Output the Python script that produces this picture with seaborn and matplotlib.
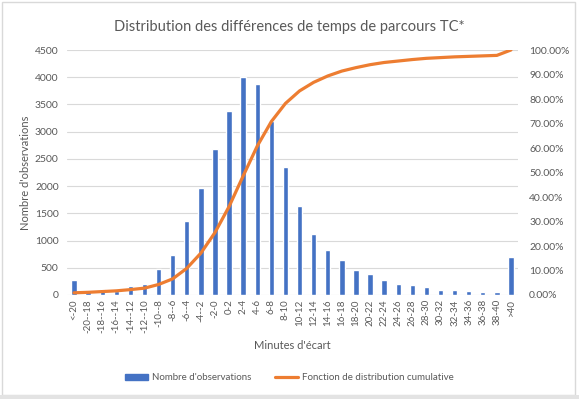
import numpy as np
import pandas as pd
import matplotlib
matplotlib.use("Agg")
import matplotlib.pyplot as plt
import matplotlib.patches as mpatches
import matplotlib.lines as mlines
import seaborn as sns

# bins (minutes of difference)
categories = ["<-20", "-20--18", "-18--16", "-16--14", "-14--12", "-12--10", "-10--8",
              "-8--6", "-6--4", "-4--2", "-2-0", "0-2", "2-4", "4-6", "6-8", "8-10",
              "10-12", "12-14", "14-16", "16-18", "18-20", "20-22", "22-24", "24-26",
              "26-28", "28-30", "30-32", "32-34", "34-36", "36-38", "38-40", ">40"]

# number of observations
counts = [280, 70, 110, 80, 160, 200, 480, 740, 1360, 1960, 2680, 3380, 4000, 3880,
          3200, 2350, 1630, 1120, 830, 640, 460, 390, 270, 210, 190, 150, 100, 90,
          70, 60, 60, 700]

# cumulative distribution (%)
cumul = [0.9, 1.1, 1.4, 1.7, 2.2, 2.8, 4.3, 6.6, 10.9, 17.1, 25.5, 36.1, 48.6, 60.8,
         70.8, 78.2, 83.3, 86.8, 89.4, 91.4, 92.8, 94.0, 94.9, 95.5, 96.1, 96.6, 96.9,
         97.2, 97.4, 97.6, 97.8, 100.0]

df = pd.DataFrame({"cat": categories, "n": counts, "cum": cumul})
df["pos"] = np.arange(len(df))

blue = "#4472C4"
orange = "#ED7D31"
txt = "#595959"

sns.set_theme(style="white")
plt.rcParams["font.family"] = ["Lato", "DejaVu Sans"]

fig = plt.figure(figsize=(5.79, 3.99), dpi=100)
ax = fig.add_axes([67 / 579, 1 - 295 / 399, 451 / 579, 245 / 399])

sns.barplot(data=df, x="cat", y="n", color=blue, saturation=1, width=0.38, ax=ax, zorder=3)
ax.set_ylim(0, 4500)
ax.set_yticks(np.arange(0, 4501, 500))
ax.set_xlim(-0.5, len(df) - 0.5)
ax.yaxis.grid(True, color="#D9D9D9", linewidth=0.8, zorder=0)
ax.set_axisbelow(True)
for s in ax.spines.values():
    s.set_visible(False)
ax.tick_params(axis="y", labelsize=7.5, colors=txt, length=0, pad=6)
ax.tick_params(axis="x", labelsize=7, colors=txt, length=0, pad=3, rotation=90)
ax.set_ylabel("Nombre d'observations", fontsize=8, color=txt, labelpad=3)
ax.set_xlabel("Minutes d'écart", fontsize=8, color=txt, labelpad=5)

ax2 = ax.twinx()
sns.lineplot(data=df, x="pos", y="cum", color=orange, linewidth=2.3, ax=ax2, zorder=4)
ax2.set_ylim(0, 100)
ax2.set_yticks(np.arange(0, 101, 10))
ax2.set_yticklabels([f"{v:.2f}%" for v in np.arange(0, 101, 10)])
ax2.set_ylabel("")
ax2.grid(False)
for s in ax2.spines.values():
    s.set_visible(False)
ax2.tick_params(axis="y", labelsize=7.5, colors=txt, length=0, pad=8)

fig.text(0.5, 1 - 27 / 399, "Distribution des différences de temps de parcours TC*",
         ha="center", va="center", fontsize=10.5, color=txt)

handles = [mpatches.Patch(color=blue, label="Nombre d'observations"),
           mlines.Line2D([], [], color=orange, linewidth=2.3, label="Fonction de distribution cumulative")]
leg = fig.legend(handles=handles, loc="center", bbox_to_anchor=(0.5, 1 - 378 / 399), ncol=2,
                 frameon=False, fontsize=7, handlelength=2.4, handleheight=0.6,
                 columnspacing=2.4, handletextpad=0.4)
for t in leg.get_texts():
    t.set_color(txt)

# chart border like the excel chart area
fig.patches.append(mpatches.Rectangle((2 / 579, 4 / 399), 573 / 579, 393 / 399,
                                      transform=fig.transFigure, fill=False,
                                      edgecolor="#D9D9D9", linewidth=1))
fig.patches.append(mpatches.Rectangle((0, 0), 1, 4 / 399, transform=fig.transFigure,
                                      facecolor="#E3E3E3", edgecolor="none"))

fig.savefig("out.png", dpi=100)
